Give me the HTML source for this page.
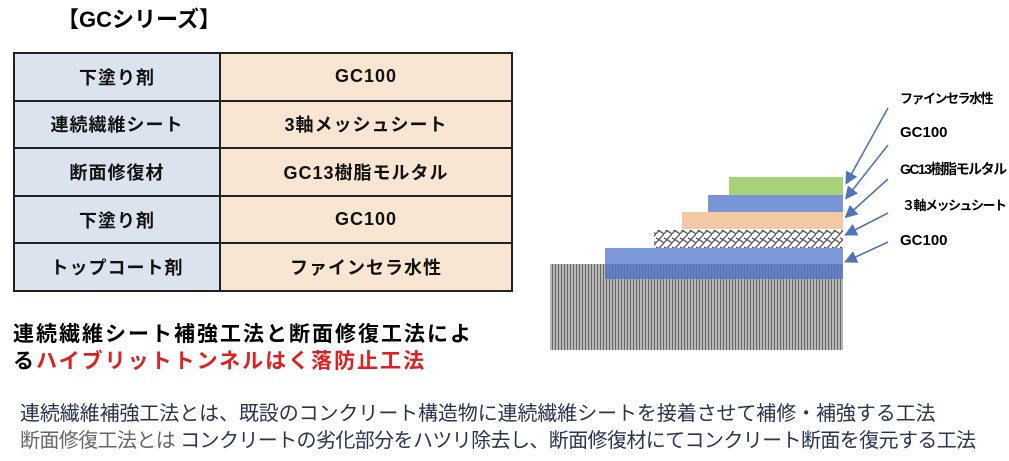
<!DOCTYPE html>
<html><head><meta charset="utf-8"><style>
body{margin:0;width:1009px;height:461px;background:#fff;position:relative;overflow:hidden;font-family:"Liberation Sans","Noto Sans CJK JP",sans-serif}
.a{position:absolute;white-space:nowrap}
table{position:absolute;left:13px;top:52px;border-collapse:collapse;width:500px}
td{border:2px solid #222;height:45.6px;text-align:center;font-weight:bold;font-size:18px;color:#111;letter-spacing:1px;padding:0}
td.l{background:#dbe3ef;width:204px}
td.r{background:#f8e6d2}
</style></head><body>
<div class="a" style="left:57px;top:2px;font-size:22px;font-weight:bold">【GCシリーズ】</div>
<table>
<tr><td class="l">下塗り剤</td><td class="r">GC100</td></tr>
<tr><td class="l">連続繊維シート</td><td class="r">3軸メッシュシート</td></tr>
<tr><td class="l">断面修復材</td><td class="r">GC13樹脂モルタル</td></tr>
<tr><td class="l">下塗り剤</td><td class="r">GC100</td></tr>
<tr><td class="l">トップコート剤</td><td class="r">ファインセラ水性</td></tr>
</table>
<svg class="a" style="left:0;top:0" width="1009" height="461">
<defs>
<pattern id="g" width="3" height="4" patternUnits="userSpaceOnUse"><rect width="3" height="4" fill="#b8b8b8"/><rect width="1" height="4" fill="#666"/></pattern>
<pattern id="m" width="8" height="9" patternUnits="userSpaceOnUse"><rect width="8" height="9" fill="#fff"/><path d="M0 9 Q4 4 8 0 M0 4 Q4 6 8 9" stroke="#555" stroke-width="1.3" fill="none"/></pattern>
<marker id="ar" markerWidth="8" markerHeight="8" refX="6" refY="4" orient="auto"><path d="M0 0 L8 4 L0 8 z" fill="#4f74b8"/></marker>
</defs>
<rect x="550" y="264" width="293" height="86" fill="url(#g)"/>
<rect x="605" y="248" width="238" height="16" fill="#7c98d8"/>
<rect x="605" y="264" width="238" height="15" fill="#5b7ac4" opacity="0.9"/>
<rect x="654" y="230" width="189" height="18" fill="url(#m)"/>
<rect x="682" y="212" width="161" height="17" fill="#f2c9a3"/>
<rect x="708" y="195" width="135" height="17" fill="#7895d6"/>
<rect x="729" y="177" width="114" height="18" fill="#a8d27a"/>
<g stroke="#4f74b8" stroke-width="1.6" marker-end="url(#ar)">
<line x1="888" y1="108" x2="847" y2="182"/>
<line x1="888" y1="145" x2="847" y2="197"/>
<line x1="888" y1="179" x2="847" y2="216"/>
<line x1="888" y1="213" x2="847" y2="234"/>
<line x1="888" y1="242" x2="847" y2="261"/>
</g>
</svg>
<div class="a" style="left:900px;top:88px;font-size:13px;font-weight:bold;letter-spacing:-1.5px">ファインセラ水性</div>
<div class="a" style="left:900px;top:124px;font-size:15px;font-weight:bold">GC100</div>
<div class="a" style="left:900px;top:159px;font-size:14px;font-weight:bold;letter-spacing:-1.5px">GC13樹脂モルタル</div>
<div class="a" style="left:902px;top:195px;font-size:13px;font-weight:bold;letter-spacing:-1.5px">３軸メッシュシート</div>
<div class="a" style="left:900px;top:232px;font-size:15px;font-weight:bold">GC100</div>
<div class="a" style="left:13px;top:318px;font-size:21px;font-weight:bold;color:#000;letter-spacing:2px">連続繊維シート補強工法と断面修復工法によ</div>
<div class="a" style="left:13px;top:345px;font-size:21px;font-weight:bold;color:#000;letter-spacing:2px">る<span style="color:#e02020">ハイブリットトンネルはく落防止工法</span></div>
<div class="a" style="left:20px;top:397px;font-size:20px;color:#2a3350;letter-spacing:-0.1px">連続繊維補強工法とは、既設のコンクリート構造物に連続繊維シートを接着させて補修・補強する工法</div>
<div class="a" style="left:20px;top:424px;font-size:20px;color:#2a3350;letter-spacing:-0.6px"><span style="color:#666">断面修復工法とは</span> コンクリートの劣化部分をハツリ除去し、断面修復材にてコンクリート断面を復元する工法</div>
</body></html>
